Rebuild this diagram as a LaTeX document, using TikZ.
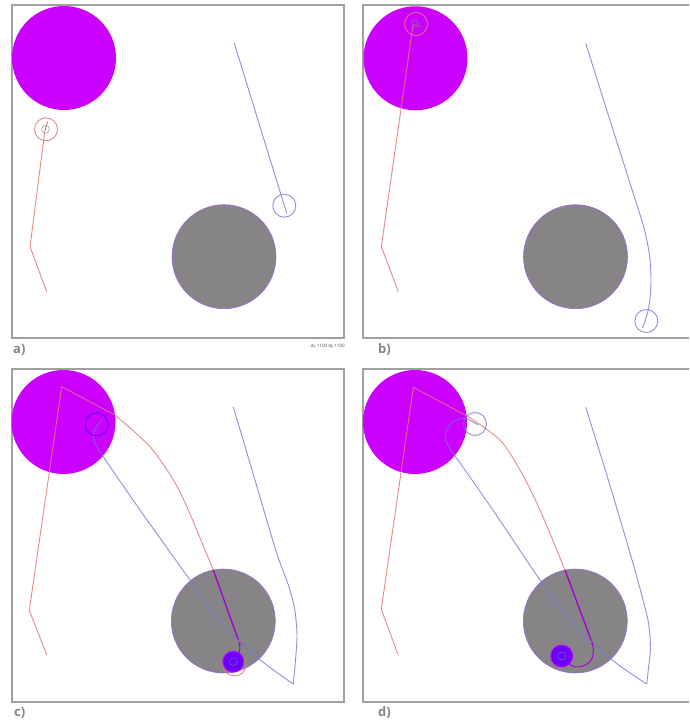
\documentclass[tikz,border=0pt]{standalone}
\usepackage{fontspec}
\setsansfont{Open Sans}
\definecolor{framegray}{HTML}{A0A0A0}
\definecolor{magentaA}{HTML}{CC00FF}
\definecolor{grayA}{HTML}{868486}
\definecolor{obsedge}{HTML}{9A6AE0}
\definecolor{redT}{HTML}{E07878}
\definecolor{blueT}{HTML}{7474D4}
\definecolor{purpleT}{HTML}{A000D0}
\definecolor{violetF}{HTML}{6A00FF}
\definecolor{labelgray}{HTML}{858585}
\begin{document}
\begin{tikzpicture}[x=1pt,y=-1pt,
  frame/.style={draw=framegray,line width=1.3pt},
  attractor/.style={fill=magentaA},
  obstacle/.style={fill=grayA,draw=obsedge,line width=0.6pt},
  redtraj/.style={draw=redT,line width=0.9pt,line join=round,draw opacity=0.85},
  bluetraj/.style={draw=blueT,line width=0.9pt,line join=round,draw opacity=0.8},
  purpletraj/.style={draw=purpleT,line width=1.3pt,line join=round},
  purplethin/.style={draw=purpleT,line width=0.9pt},
  sensor/.style={draw=framegray,line width=0.6pt},
  robotfill/.style={fill=violetF,draw=magentaA,line width=0.9pt},
  lbl/.style={font=\sffamily\bfseries\fontsize{13}{13}\selectfont,text=labelgray,inner sep=0pt},
  tinylbl/.style={font=\sffamily\fontsize{4.5}{5}\selectfont,text=black!70,inner sep=0pt}
]
\useasboundingbox (0,0) rectangle (689,722);
\fill[white] (0,0) rectangle (689,722);

% ---------------- panel a ----------------
\draw[frame] (12,5) rectangle (344,338);
\fill[attractor] (64,58) circle[radius=52pt];
\draw[obstacle] (224,256.7) circle[radius=52pt];
\draw[redtraj] (46.7,291.7) -- (30,246.7) -- (45,130);
\draw[redtraj] (46,129.3) circle[radius=11.5pt];
\draw[sensor] (45.5,129.3) circle[radius=4pt];
\draw[draw=redT!80!black,line width=0.7pt] (45,130) -- (47.7,121.7);
\draw[bluetraj] (234.3,43.3) -- (286.7,213.3);
\draw[bluetraj] (284.3,205.7) circle[radius=11.5pt];
\node[lbl,anchor=west] (la) at (13,350) {a)};
\node[tinylbl,anchor=east] (dd) at (345,346) {dx 1100 dy 1100};

% ---------------- panel b ----------------
\draw[frame] (689,5) -- (363,5) -- (363,338) -- (689,338);
\fill[attractor] (415.5,58.3) circle[radius=52pt];
\draw[obstacle] (575.5,256.7) circle[radius=52pt];
\draw[redtraj] (398.3,291.7) -- (381.3,246.7) -- (413,25);
\draw[redtraj] (416,24) circle[radius=11.5pt];
\draw[draw=blueT,line width=0.6pt] (415,23.5) circle[radius=3.5pt];
\draw[draw=redT!80!black,line width=0.7pt] (413,24) -- (422,27);
\draw[bluetraj] plot[smooth,tension=0.5] coordinates {(585.7,43.3) (611.5,125) (635,199) (644,228) (649.5,255) (651,280) (649.5,303) (646,318) (642.3,328.3)};
\draw[bluetraj] (646.3,321) circle[radius=11.5pt];
\node[lbl,anchor=west] (lb) at (378,350) {b)};

% ---------------- panel c ----------------
\draw[frame] (12,369) rectangle (344,702);
\fill[attractor] (63.5,422) circle[radius=52pt];
\draw[obstacle] (223.3,621) circle[radius=52pt];
\draw[redtraj] (46.7,654.7) -- (29.3,610.3) -- (61.7,386.7) -- (115,415);
\draw[redtraj] plot[smooth,tension=0.5] coordinates {(115,415) (150,446.7) (173.3,480) (188.3,510) (213.3,570)};
\draw[purpletraj] (213.3,570) -- (238.3,640);
\draw[bluetraj] plot[smooth,tension=0.5] coordinates {(233.3,407) (255,480) (276,551) (288,584) (294.5,608) (297,635) (295.5,660) (293.3,684)};
\draw[bluetraj] plot[smooth,tension=0.5] coordinates {(293.3,684) (258.3,658.3) (218.3,620) (190,580) (140,510) (103.3,456.7) (95.5,444) (93.5,434) (97,426) (102.7,419.3)};
\draw[bluetraj,draw=blue!75!magentaA] (96.7,424.3) circle[radius=11.5pt];
\draw[redtraj] (234.5,664.5) circle[radius=11.5pt];
\fill[purpleT] (239.5,643.5) circle[radius=1.3pt];
\draw[purplethin] (239.5,643.5) .. controls (241,650) and (239,656) .. (233.3,661.7);
\draw[robotfill] (233.3,661.7) circle[radius=10.5pt];
\draw[draw=grayA!60!violetF,line width=0.6pt] (233.3,661.7) circle[radius=4pt];
\node[lbl,anchor=west] (lc) at (14,713) {c)};

% ---------------- panel d ----------------
\draw[frame] (689,369) -- (363,369) -- (363,702) -- (689,702);
\fill[attractor] (415,422) circle[radius=52pt];
\draw[obstacle] (575.3,621) circle[radius=52pt];
\draw[redtraj] (398.3,655.3) -- (381.3,609.3) -- (413.3,387.3) -- (468.3,416.7);
\draw[redtraj] plot[smooth,tension=0.5] coordinates {(468.3,416.7) (500,440) (520,470) (540,510) (565,570)};
\draw[purpletraj] (565,570) -- (591.7,641.7);
\draw[bluetraj] plot[smooth,tension=0.5] coordinates {(585.7,407) (608.3,480) (630,553) (642,596) (648.5,623) (650.5,648) (648.5,668) (646.7,684)};
\draw[bluetraj] plot[smooth,tension=0.5] coordinates {(646.7,684) (610,658.3) (570,620) (540,580) (491.7,508.3) (456.7,458.3) (449,447) (445,435) (452,422.5) (465,418.3) (478,425)};
\draw[bluetraj] (475,424) circle[radius=11.5pt];
\fill[purpleT] (592.3,643.5) circle[radius=1.3pt];
\draw[purplethin] plot[smooth,tension=0.6] coordinates {(592.3,643.5) (593.3,652) (590,661.7) (580,666.7) (570,665) (561.7,656)};
\draw[robotfill] (561.7,656) circle[radius=11pt];
\draw[draw=grayA!60!violetF,line width=0.6pt] (561.7,656) circle[radius=4pt];
\node[lbl,anchor=west] (ld) at (378,713) {d)};
\end{tikzpicture}
\end{document}
